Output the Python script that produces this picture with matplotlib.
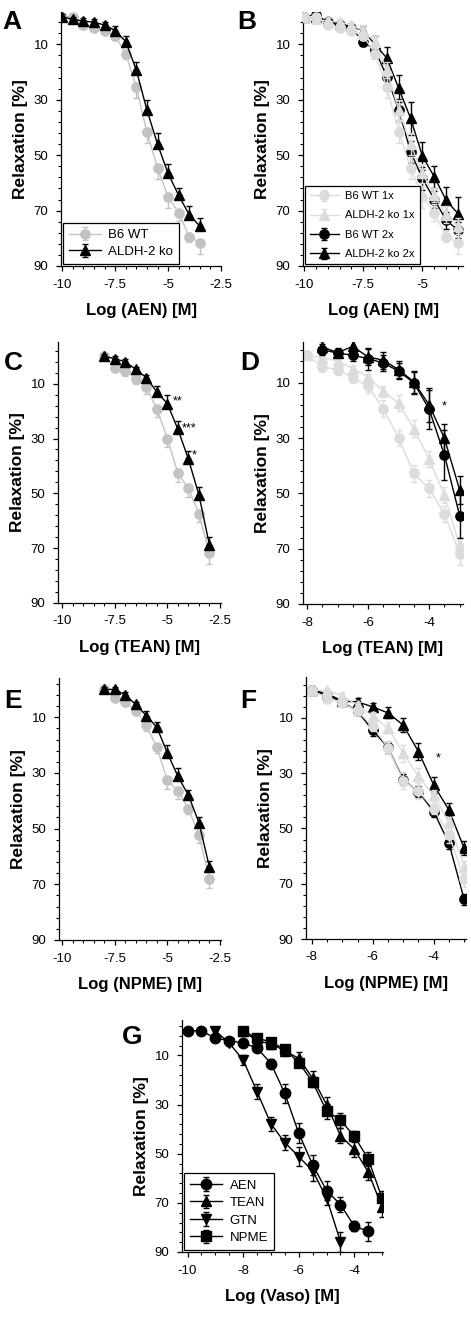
import matplotlib
matplotlib.use("Agg")
import matplotlib.pyplot as plt
from matplotlib.ticker import MultipleLocator, AutoMinorLocator

plt.rcParams['font.family'] = ['Liberation Sans', 'DejaVu Sans']

# ---- data ----
aen_x = [-10, -9.5, -9, -8.5, -8, -7.5, -7, -6.5, -6, -5.5, -5, -4.5, -4, -3.5]
aen_wt = [0, 0, 3, 4, 5, 7, 13.3, 25.5, 41.7, 54.5, 65, 70.7, 79.5, 81.6]
aen_wt_err = [1, 1, 1, 1, 1, 1.5, 2, 4, 4, 4, 4, 3, 2, 4]
aen_ko = [0, 1, 1.5, 2, 3, 5, 9, 19.3, 33.7, 46, 56.6, 64.5, 71.5, 75.6]
aen_ko_err = [1, 1, 1, 1, 1, 1.5, 2, 3, 3.5, 4, 3.5, 2.5, 3, 3]
aen_wt2 = [0, -0.6, 2, 3, 4, 9, 12, 21.7, 33.7, 48.8, 58.4, 66, 73.5, 77]
aen_wt2_err = [1, 1, 1, 1, 1, 1.5, 3, 3, 4, 4, 4, 3, 3, 3]
aen_ko2 = [0, 0, 1.5, 2.5, 3.5, 5, 10, 15, 25.9, 36.7, 50.4, 57.8, 66.3, 71.1]
aen_ko2_err = [1, 1, 1, 1, 1, 1.5, 3, 4, 5, 6, 5, 4, 5, 6]

tean_x = [-8, -7.5, -7, -6.5, -6, -5.5, -5, -4.5, -4, -3.5, -3]
tean_wt = [0, 4.2, 5.2, 8.2, 11.2, 19.3, 30, 42.7, 48.2, 57.5, 71.8]
tean_wt_err = [1, 1.5, 2, 2, 2.5, 3, 3, 3, 3, 3, 4]
tean_ko = [0, 0.9, 2, 4.8, 7.8, 13, 17.3, 26.6, 37.5, 50.6, 68.8]
tean_ko_err = [1, 1, 1, 1, 1, 2, 3, 3, 3, 3, 3]
tean2_x = [-7.5, -7, -6.5, -6, -5.5, -5, -4.5, -4, -3.5, -3]
tean_wt2 = [-2, -0.8, 0, 1.2, 2.8, 5.7, 10, 19.5, 36, 58]
tean_wt2_err = [2, 1.5, 2, 4, 3, 3, 4, 7, 9, 8]
tean_ko2 = [-3, -1, -3.2, 0.6, 1.8, 5.2, 9.6, 18, 30, 48.7]
tean_ko2_err = [2, 1.5, 3, 3, 3, 3, 4, 6, 5, 5]

npme_x = [-8, -7.5, -7, -6.5, -6, -5.5, -5, -4.5, -4, -3.5, -3]
npme_wt = [0, 3, 4.5, 7.6, 12.9, 20.8, 32.7, 36.4, 42.9, 52.2, 68.2]
npme_wt_err = [1, 1, 1, 1, 2, 2, 3, 3, 2, 3, 3]
npme_ko = [0, 0, 2, 5.4, 9.4, 13.6, 22.8, 31.2, 38, 47.8, 63.8]
npme_ko_err = [1, 1, 1, 1, 1.5, 2, 3, 3, 2, 2, 2]
npme_wt2 = [0, 1.8, 4.2, 7.6, 14.5, 20.7, 32.3, 36.7, 43.9, 55.4, 75.6]
npme_wt2_err = [1, 1, 1, 1, 2, 2, 2, 2, 2, 2, 2]
npme_ko2 = [0, 1.2, 3.9, 4.2, 6, 8.2, 12.6, 22.2, 34.3, 43.3, 57.2]
npme_ko2_err = [1, 1, 1, 1.5, 1.5, 2, 2.5, 3, 3, 2.5, 2.5]

gtn_x = [-9, -8.5, -8, -7.5, -7, -6.5, -6, -5.5, -5, -4.5]
gtn = [0, 5, 11.9, 24.8, 37.9, 45.5, 51.2, 57, 68, 85.8]
gtn_err = [1, 1, 2, 3, 3, 3, 4, 4, 3, 4]

W, H = 471, 1319
GRAY = '#c3c3c3'
LIGHT = '#dcdcdc'

fig = plt.figure(figsize=(W / 100, H / 100), dpi=100)


def panel(box, xlim, ylim, xmajor, xminor_n, letter, letter_xy, xlabel):
    left, top, right, bottom = box
    ax = fig.add_axes([left / W, 1 - bottom / H, (right - left) / W, (bottom - top) / H])
    ax.set_xlim(*xlim)
    ax.set_ylim(*ylim)
    ax.xaxis.set_major_locator(MultipleLocator(xmajor))
    ax.xaxis.set_minor_locator(AutoMinorLocator(xminor_n))
    ax.set_yticks([10, 30, 50, 70, 90])
    ax.yaxis.set_minor_locator(AutoMinorLocator(5))
    ax.xaxis.set_major_formatter(plt.FuncFormatter(lambda v, p: ('%g' % v)))
    for s in ('top', 'right'):
        ax.spines[s].set_visible(False)
    for s in ('left', 'bottom'):
        ax.spines[s].set_linewidth(0.9)
    ax.tick_params(which='major', direction='out', length=3.5, width=0.9, pad=5.5, labelsize=9.5)
    ax.tick_params(which='minor', direction='out', length=2, width=0.8)
    ax.set_ylabel('Relaxation [%]', fontsize=12.5, fontweight='bold', labelpad=4)
    ax.set_xlabel(xlabel, fontsize=12, fontweight='bold', labelpad=9)
    fig.text(letter_xy[0] / W, 1 - letter_xy[1] / H, letter, fontsize=19, fontweight='bold',
             ha='left', va='center')
    return ax


def series(ax, x, y, err, side, color, marker, label, ms=6.7, z=2):
    zeros = [0] * len(err)
    if side == 'down':
        yerr = [zeros, err]
    elif side == 'up':
        yerr = [err, zeros]
    else:
        yerr = err
    return ax.errorbar(x, y, yerr=yerr, color=color, marker=marker, ms=ms, lw=1,
                       elinewidth=1, capsize=2.5, capthick=1, label=label, zorder=z,
                       markeredgecolor=color)


def legend(ax, fontsize, spacing, hl=2.4):
    leg = ax.legend(loc='lower left', bbox_to_anchor=(0.0, 0.0), borderaxespad=0.15,
                    fontsize=fontsize, fancybox=False, edgecolor='black', framealpha=1,
                    handlelength=hl, labelspacing=spacing, borderpad=0.45, handletextpad=0.6)
    leg.get_frame().set_linewidth(0.9)
    return leg


# A
ax = panel((61, 12, 221, 266), (-10.06, -2.5), (90, -1.7), 2.5, 5, 'A', (2, 22), 'Log (AEN) [M]')
series(ax, aen_x, aen_wt, aen_wt_err, 'down', GRAY, 'o', 'B6 WT', z=2)
series(ax, aen_x, aen_ko, aen_ko_err, 'up', 'black', '^', 'ALDH-2 ko', z=3)
legend(ax, 9.5, 0.35)

# B
ax = panel((303, 12, 463, 266), (-10.04, -3.29), (90, -1.7), 2.5, 5, 'B', (237, 22), 'Log (AEN) [M]')
series(ax, aen_x, aen_wt, aen_wt_err, 'both', LIGHT, 'o', 'B6 WT 1x', z=4)
series(ax, aen_x, aen_ko, aen_ko_err, 'both', LIGHT, '^', 'ALDH-2 ko 1x', z=4)
series(ax, aen_x, aen_wt2, aen_wt2_err, 'both', 'black', 'o', 'B6 WT 2x', z=3)
series(ax, aen_x, aen_ko2, aen_ko2_err, 'both', 'black', '^', 'ALDH-2 ko 2x', z=3)
legend(ax, 8, 0.85, hl=2.6)

# C
ax = panel((58, 342, 221, 603), (-10.2, -2.45), (90, -5.2), 2.5, 5, 'C', (4, 363), 'Log (TEAN) [M]')
series(ax, tean_x, tean_wt, tean_wt_err, 'down', GRAY, 'o', 'B6 WT', z=2)
series(ax, tean_x, tean_ko, tean_ko_err, 'up', 'black', '^', 'ALDH-2 ko', z=3)
for xs, ys, s in [(-4.75, 16.5, '**'), (-4.3, 26.5, '***'), (-3.85, 36, '*')]:
    ax.text(xs, ys, s, fontsize=9, ha='left', va='center')

# D
ax = panel((303, 342, 463, 604), (-8.13, -2.89), (90, -4.8), 2, 4, 'D', (240, 363), 'Log (TEAN) [M]')
series(ax, tean_x, tean_wt, tean_wt_err, 'both', LIGHT, 'o', 'B6 WT 1x', z=2)
series(ax, tean_x, tean_ko, tean_ko_err, 'both', LIGHT, '^', 'ALDH-2 ko 1x', z=2)
series(ax, tean2_x, tean_wt2, tean_wt2_err, 'both', 'black', 'o', 'B6 WT 2x', z=3)
series(ax, tean2_x, tean_ko2, tean_ko2_err, 'both', 'black', '^', 'ALDH-2 ko 2x', z=3)
ax.text(-3.5, 18.5, '*', fontsize=9, ha='center', va='center')

# E
ax = panel((59, 678, 221, 940), (-10.15, -2.45), (90, -4.1), 2.5, 5, 'E', (4, 701), 'Log (NPME) [M]')
series(ax, npme_x, npme_wt, npme_wt_err, 'down', GRAY, 'o', 'B6 WT', z=2)
series(ax, npme_x, npme_ko, npme_ko_err, 'up', 'black', '^', 'ALDH-2 ko', z=3)

# F
ax = panel((306, 677, 466, 939), (-8.19, -2.94), (90, -4.8), 2, 4, 'F', (240, 701), 'Log (NPME) [M]')
series(ax, npme_x, npme_wt2, npme_wt2_err, 'both', 'black', 'o', 'B6 WT 2x', z=2)
series(ax, npme_x, npme_ko2, npme_ko2_err, 'both', 'black', '^', 'ALDH-2 ko 2x', z=3)
series(ax, npme_x, npme_wt, npme_wt_err, 'both', LIGHT, 'o', 'B6 WT 1x', z=4)
series(ax, npme_x, npme_ko, npme_ko_err, 'both', LIGHT, '^', 'ALDH-2 ko 1x', z=4)
ax.text(-3.85, 24.5, '*', fontsize=9, ha='center', va='center')

# G
ax = panel((182, 1020, 383, 1252), (-10.2, -2.97), (90, -4.4), 2, 4, 'G', (122, 1037), 'Log (Vaso) [M]')
series(ax, aen_x, aen_wt, aen_wt_err, 'both', 'black', 'o', 'AEN', ms=7.5, z=3)
series(ax, tean_x, tean_wt, tean_wt_err, 'both', 'black', '^', 'TEAN', ms=7.5, z=3)
series(ax, gtn_x, gtn, gtn_err, 'both', 'black', 'v', 'GTN', ms=7.5, z=3)
series(ax, npme_x, npme_wt, npme_wt_err, 'both', 'black', 's', 'NPME', ms=6.5, z=3)
legend(ax, 9.5, 0.4)

fig.savefig('out.png', dpi=100)
